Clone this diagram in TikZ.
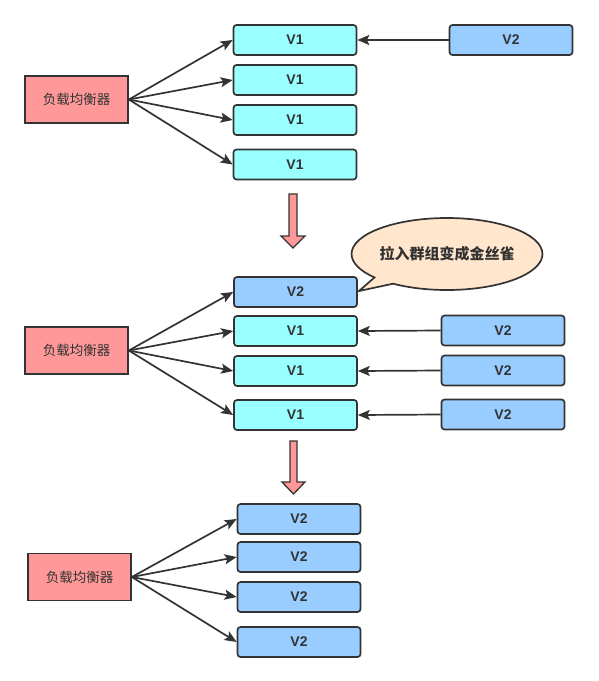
\documentclass[tikz,border=0pt]{standalone}
\usepackage{fontspec}
\setsansfont{Liberation Sans}
\newfontfamily\cjk{Noto Sans CJK SC}
\usetikzlibrary{arrows.meta,shapes.callouts}
\definecolor{strk}{HTML}{333333}
\definecolor{vonefill}{HTML}{99FFFF}
\definecolor{vtwofill}{HTML}{99CCFF}
\definecolor{lbfill}{HTML}{FF9999}
\definecolor{calloutfill}{HTML}{FFE6CC}
\begin{document}
\begin{tikzpicture}[x=1pt,y=-1pt,
  box/.style={draw=strk,line width=1.7pt,rounded corners=3pt,minimum width=123pt,minimum height=30pt,inner sep=0pt,
     font=\sffamily\bfseries\fontsize{14}{15}\selectfont,text=strk},
  vone/.style={box,fill=vonefill},
  vtwo/.style={box,fill=vtwofill},
  lb/.style={draw=strk,line width=1.7pt,fill=lbfill,minimum width=103pt,minimum height=47pt,inner sep=0pt,
     font=\cjk\fontsize{13.5}{14}\selectfont,text=strk},
  conn/.style={draw=strk,line width=1.7pt,-{Stealth[length=12pt,width=10pt,inset=2.5pt]}},
  bigarrow/.style={draw=strk,line width=1.3pt,fill=lbfill,line join=miter}
]
\useasboundingbox (0,0) rectangle (598,681);
% ---------- section 1
\node[lb] (lbA) at (76.5,99.5) {负载均衡器};
\node[vone] (a1) at (295,40) {V1};
\node[vone] (a2) at (295,80) {V1};
\node[vone] (a3) at (295,120) {V1};
\node[vone] (a4) at (295,164.5) {V1};
\node[vtwo] (a5) at (511,40) {V2};
\foreach \n in {a1,a2,a3,a4} \draw[conn] (lbA.east) -- (\n.west);
\draw[conn] (a5.west) -- (a1.east);
% block arrow 1
\draw[bigarrow] (289,194) -- (297,194) -- (297,236) -- (305,236) -- (293,248) -- (281,236) -- (289,236) -- cycle;
% ---------- section 2
\node[lb] (lbB) at (76.5,350.5) {负载均衡器};
\node[vtwo] (b1) at (295.5,292) {V2};
\node[vone] (b2) at (295.5,331) {V1};
\node[vone] (b3) at (295.5,371) {V1};
\node[vone] (b4) at (295.5,415) {V1};
\node[vtwo] (b5) at (503,330.5) {V2};
\node[vtwo] (b6) at (503,370.5) {V2};
\node[vtwo] (b7) at (503,414.5) {V2};
\foreach \n in {b1,b2,b3,b4} \draw[conn] (lbB.east) -- (\n.west);
\draw[conn] (b5.west) -- (b2.east);
\draw[conn] (b6.west) -- (b3.east);
\draw[conn] (b7.west) -- (b4.east);
\node[ellipse callout,draw=strk,line width=1.7pt,fill=calloutfill,minimum width=180pt,minimum height=72pt,
  inner sep=0pt,callout absolute pointer={(359,291)},callout pointer width=0.2,
  font=\cjk\bfseries\fontsize{15}{16}\selectfont,text=strk] (call) at (447,254) {拉入群组变成金丝雀};
% block arrow 2
\draw[bigarrow] (290,441) -- (297,441) -- (297,482) -- (305,482) -- (293.5,494) -- (282,482) -- (290,482) -- cycle;
% ---------- section 3
\node[lb] (lbC) at (79.5,577) {负载均衡器};
\node[vtwo] (c1) at (299,519) {V2};
\node[vtwo] (c2) at (299,557) {V2};
\node[vtwo] (c3) at (299,597) {V2};
\node[vtwo] (c4) at (299,642) {V2};
\foreach \n in {c1,c2,c3,c4} \draw[conn] (lbC.east) -- (\n.west);
\end{tikzpicture}
\end{document}
